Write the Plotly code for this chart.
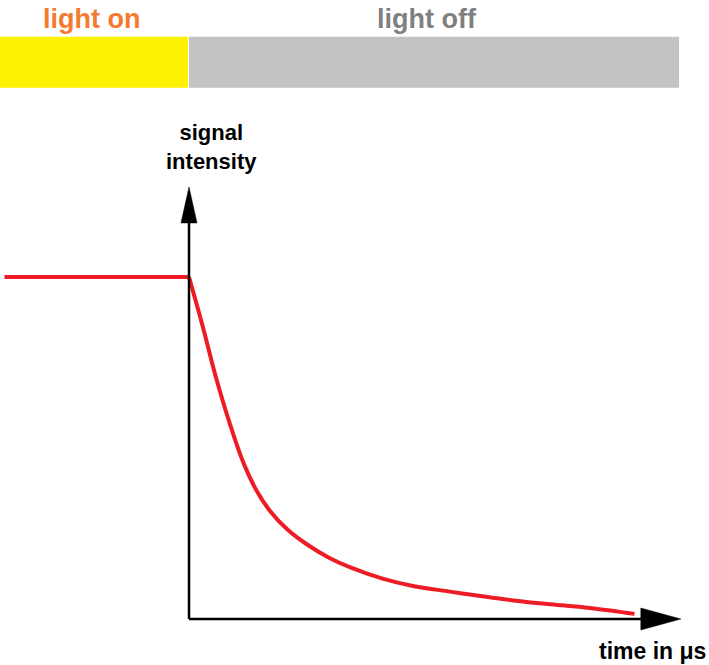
import plotly.graph_objects as go

# ---- data ----
time_us = [-41, 0, 3, 6, 9, 12, 15, 18, 22, 26, 31, 36, 43, 50, 58, 66, 75, 83, 90, 99]
intensity = [100, 100, 85.8, 70.6, 57.4, 46.0, 37.6, 31.6, 26.0, 22.0, 18.0, 15.0, 11.8, 9.6, 8.0, 6.5, 5.0, 4.0, 3.1, 1.5]

phase_labels = ["light on", "light off"]
phase_start = [-42, 0]
phase_length = [41.8, 108.9]
phase_colors = ["#FFF200", "#C3C3C3"]
label_colors = ["#F47A30", "#7F7F7F"]

x_axis_label = "time in μs"
y_axis_label = "signal<br>intensity"

# ---- figure ----
fig = go.Figure()

fig.add_trace(go.Bar(
    orientation="h",
    y=[162.8, 162.8],
    x=phase_length,
    base=phase_start,
    width=14.9,
    marker=dict(color=phase_colors, line=dict(width=0)),
    hoverinfo="skip",
    showlegend=False,
))

# plateau while light is on
fig.add_trace(go.Scatter(
    x=time_us[:2], y=intensity[:2], mode="lines",
    line=dict(color="#ED1C24", width=4),
    hoverinfo="skip", showlegend=False,
))
# decay after light off
fig.add_trace(go.Scatter(
    x=time_us[1:], y=intensity[1:], mode="lines",
    line=dict(color="#ED1C24", width=4, shape="spline", smoothing=1.0),
    hoverinfo="skip", showlegend=False,
))

# axes with arrows
fig.add_shape(type="line", x0=0, y0=0, x1=0, y1=116, line=dict(color="black", width=2.5))
fig.add_shape(type="path", path="M -1.78,115.8 L 0,126.3 L 1.78,115.8 Z",
              fillcolor="black", line=dict(color="black", width=0.5))
fig.add_shape(type="line", x0=0, y0=0, x1=101, y1=0, line=dict(color="black", width=2.5))
fig.add_shape(type="path", path="M 100.4,3.2 L 109.3,0 L 100.4,-3.2 Z",
              fillcolor="black", line=dict(color="black", width=0.5))

bold = "Liberation Sans"
label_x = [-21.6, 52.9]
for lab, col, lx in zip(phase_labels, label_colors, label_x):
    fig.add_annotation(x=lx, y=175.4, text="<b>%s</b>" % lab, showarrow=False,
                       font=dict(family=bold, size=27, color=col),
                       xanchor="center", yanchor="middle")

fig.add_annotation(x=5.1, y=138, text="<b>%s</b>" % y_axis_label, showarrow=False,
                   font=dict(family=bold, size=22, color="black"),
                   xanchor="center", yanchor="middle")
fig.add_annotation(x=103.1, y=-9.4, text="<b>%s</b>" % x_axis_label, showarrow=False,
                   font=dict(family=bold, size=23, color="black"),
                   xanchor="center", yanchor="middle")

fig.update_layout(
    width=709, height=665,
    margin=dict(l=0, r=0, t=0, b=0),
    paper_bgcolor="white", plot_bgcolor="white",
    barmode="overlay",
    xaxis=dict(range=[-42, 115.556], visible=False, fixedrange=True),
    yaxis=dict(range=[-13.45, 180.99], visible=False, fixedrange=True),
    showlegend=False,
)

fig.write_html(
    "out.html",
    config={"displayModeBar": False},
    post_script="document.body.style.margin='0';document.body.style.overflow='hidden';",
)
